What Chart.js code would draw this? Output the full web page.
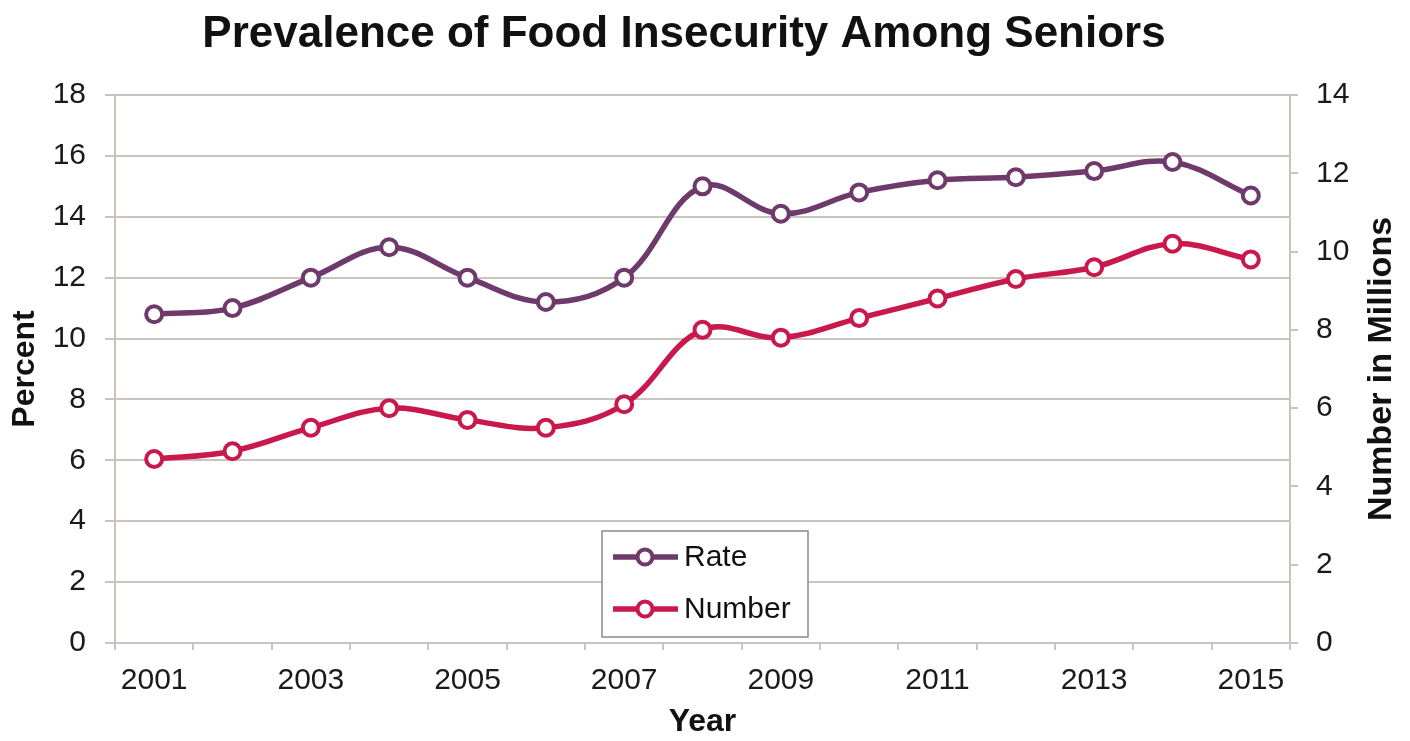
<!DOCTYPE html>
<html>
<head>
<meta charset="utf-8">
<title>Prevalence of Food Insecurity Among Seniors</title>
<script src="https://cdn.jsdelivr.net/npm/chart.js@4.4.0/dist/chart.umd.min.js"></script>
<style>
  html, body { margin: 0; padding: 0; background: #fff; }
</style>
</head>
<body>
<canvas id="chart" width="1410" height="741"></canvas>
<script>
// 数据：年份、比例（左轴，%）、人数（右轴，百万）
const years = ['2001', '2002', '2003', '2004', '2005', '2006', '2007', '2008',
  '2009', '2010', '2011', '2012', '2013', '2014', '2015'];
const ratePct = [10.8, 11.0, 12.0, 13.0, 12.0, 11.2, 12.0, 15.0, 14.1, 14.8, 15.2, 15.3, 15.5, 15.8, 14.7];
const numberMillions = [4.7, 4.9, 5.5, 6.0, 5.7, 5.5, 6.1, 8.0, 7.8, 8.3, 8.8, 9.3, 9.6, 10.2, 9.8];

const FONT = '"Liberation Sans", Arial, sans-serif';
const GRID = '#cbc3be';
const RATE_COLOR = '#6e3a6c';
const NUMBER_COLOR = '#c8184c';

// 标题（略偏左，不随坐标轴居中）
const titlePlugin = {
  id: 'topTitle',
  afterDraw(chart) {
    const ctx = chart.ctx;
    ctx.save();
    ctx.font = 'bold 44px ' + FONT;
    ctx.fillStyle = '#111';
    ctx.textAlign = 'center';
    ctx.textBaseline = 'middle';
    ctx.fillText('Prevalence of Food Insecurity Among Seniors', 684, 35);
    ctx.restore();
  }
};

// 右轴标题：从下往上读
const rightTitlePlugin = {
  id: 'rightTitle',
  afterDraw(chart) {
    const { ctx, chartArea } = chart;
    ctx.save();
    ctx.translate(1382, (chartArea.top + chartArea.bottom) / 2);
    ctx.rotate(-Math.PI / 2);
    ctx.font = 'bold 34px ' + FONT;
    ctx.fillStyle = '#111';
    ctx.textAlign = 'center';
    ctx.textBaseline = 'middle';
    ctx.fillText('Number in Millions', 0, 0);
    ctx.restore();
  }
};

// 图内图例（带边框）
const insetLegend = {
  id: 'insetLegend',
  afterDraw(chart) {
    const ctx = chart.ctx;
    const box = { x: 602, y: 531, w: 206, h: 106 };
    ctx.save();
    ctx.fillStyle = '#fff';
    ctx.fillRect(box.x, box.y, box.w, box.h);
    ctx.strokeStyle = '#8a8a8a';
    ctx.lineWidth = 1.5;
    ctx.strokeRect(box.x, box.y, box.w, box.h);
    chart.data.datasets.forEach((ds, i) => {
      const y = box.y + 26 + i * 52;
      ctx.strokeStyle = ds.borderColor;
      ctx.lineWidth = 5.5;
      ctx.beginPath();
      ctx.moveTo(box.x + 11, y);
      ctx.lineTo(box.x + 76, y);
      ctx.stroke();
      ctx.beginPath();
      ctx.arc(box.x + 43, y, 7.5, 0, Math.PI * 2);
      ctx.fillStyle = '#fff';
      ctx.fill();
      ctx.lineWidth = 4;
      ctx.stroke();
      ctx.font = '30px ' + FONT;
      ctx.fillStyle = '#111';
      ctx.textAlign = 'left';
      ctx.textBaseline = 'middle';
      ctx.fillText(ds.label, box.x + 82, y + 1);
    });
    ctx.restore();
  }
};

const ctx = document.getElementById('chart').getContext('2d');
new Chart(ctx, {
  type: 'line',
  data: {
    labels: years,
    datasets: [
      {
        label: 'Rate',
        data: ratePct,
        yAxisID: 'y',
        borderColor: RATE_COLOR,
        backgroundColor: '#fff',
        borderWidth: 5.5,
        pointRadius: 8,
        pointBorderWidth: 4,
        pointBackgroundColor: '#fff',
        pointBorderColor: RATE_COLOR,
        tension: 0.38,
        fill: false
      },
      {
        label: 'Number',
        data: numberMillions,
        yAxisID: 'y1',
        borderColor: NUMBER_COLOR,
        backgroundColor: '#fff',
        borderWidth: 5.5,
        pointRadius: 8,
        pointBorderWidth: 4,
        pointBackgroundColor: '#fff',
        pointBorderColor: NUMBER_COLOR,
        tension: 0.38,
        fill: false
      }
    ]
  },
  options: {
    responsive: false,
    animation: false,
    devicePixelRatio: 1,
    layout: { padding: { top: 95, left: 0, right: 0, bottom: 0 } },
    plugins: {
      legend: { display: false },
      title: { display: false },
      tooltip: { enabled: false }
    },
    scales: {
      x: {
        offset: true,
        afterFit(scale) { scale.height = 98; },
        grid: {
          offset: true,
          drawOnChartArea: false,
          drawTicks: true,
          tickLength: 7,
          color: GRID,
          lineWidth: 2
        },
        border: { display: true, color: GRID, width: 2 },
        ticks: {
          autoSkip: false,
          maxRotation: 0,
          padding: 13,
          color: '#1a1a1a',
          font: { family: FONT, size: 30 },
          // 只显示奇数年份
          callback: (value, index) => (index % 2 === 0 ? years[index] : '')
        },
        title: {
          display: true,
          text: 'Year',
          color: '#111',
          font: { family: FONT, size: 32, weight: 'bold' },
          padding: { top: 0, bottom: 0 }
        }
      },
      y: {
        position: 'left',
        min: 0,
        max: 18,
        afterFit(scale) { scale.width = 115; },
        grid: {
          color: GRID,
          lineWidth: 2,
          drawTicks: true,
          tickLength: 10
        },
        border: { display: true, color: GRID, width: 2 },
        ticks: {
          stepSize: 2,
          padding: 19,
          color: '#1a1a1a',
          font: { family: FONT, size: 30 }
        },
        title: {
          display: true,
          text: 'Percent',
          color: '#111',
          font: { family: FONT, size: 32, weight: 'bold' },
          padding: { top: 6, bottom: 0 }
        }
      },
      y1: {
        position: 'right',
        min: 0,
        max: 14,
        afterFit(scale) { scale.width = 120; },
        grid: {
          drawOnChartArea: false,
          drawTicks: true,
          tickLength: 8,
          color: GRID,
          lineWidth: 2
        },
        border: { display: true, color: GRID, width: 2 },
        ticks: {
          stepSize: 2,
          padding: 18,
          color: '#1a1a1a',
          font: { family: FONT, size: 30 }
        }
      }
    }
  },
  plugins: [titlePlugin, rightTitlePlugin, insetLegend]
});
</script>
</body>
</html>
